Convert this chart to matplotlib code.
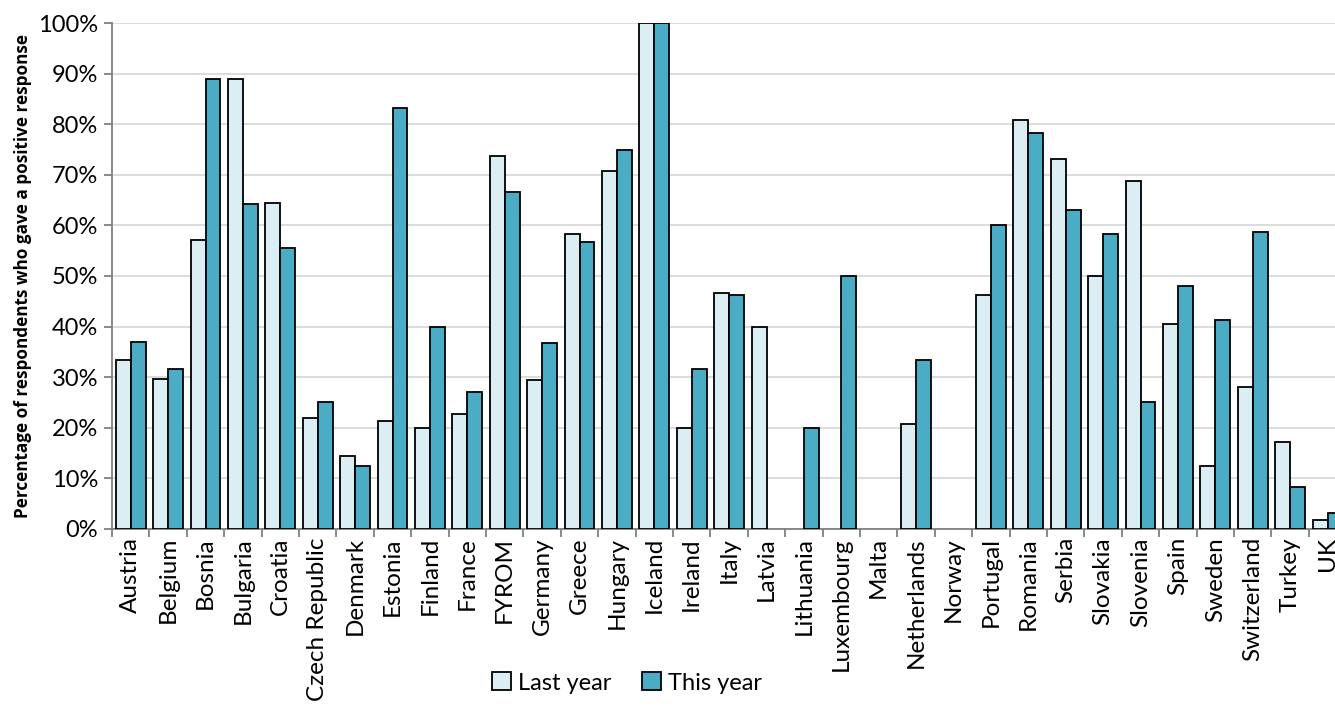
import numpy as np
import matplotlib.pyplot as plt
from matplotlib.ticker import PercentFormatter, FixedLocator

plt.rcParams['font.family'] = ['Lato', 'DejaVu Sans']

# data
countries = ['Austria', 'Belgium', 'Bosnia', 'Bulgaria', 'Croatia', 'Czech Republic',
             'Denmark', 'Estonia', 'Finland', 'France', 'FYROM', 'Germany', 'Greece',
             'Hungary', 'Iceland', 'Ireland', 'Italy', 'Latvia', 'Lithuania', 'Luxembourg',
             'Malta', 'Netherlands', 'Norway', 'Portugal', 'Romania', 'Serbia', 'Slovakia',
             'Slovenia', 'Spain', 'Sweden', 'Switzerland', 'Turkey', 'UK']
last_year = [33.3, 29.7, 57.1, 88.9, 64.5, 22.0, 14.3, 21.4, 20.0, 22.6, 73.7, 29.4, 58.3,
             70.8, 100.0, 20.0, 46.7, 40.0, 0, 0, 0, 20.7, 0, 46.2, 80.8, 73.1, 50.0,
             68.8, 40.5, 12.5, 28.0, 17.1, 1.7]
this_year = [37.0, 31.5, 88.9, 64.2, 55.5, 25.0, 12.5, 83.3, 40.0, 27.1, 66.7, 36.7, 56.7,
             75.0, 100.0, 31.6, 46.2, 0, 20.0, 50.0, 0, 33.3, 0, 60.0, 78.3, 63.0, 58.3,
             25.0, 48.1, 41.2, 58.8, 8.3, 3.1]

light = '#DAEEF3'
dark = '#4BACC6'

fig = plt.figure(figsize=(13.35, 7.06), dpi=100)
# plot area runs past the right edge, like the original (UK is clipped)
ax = fig.add_axes([112 / 1335, (706 - 528.7) / 706, 33 * 37.4 / 1335, 505.4 / 706])

x = np.arange(len(countries))
w = 0.4
# zero values are not drawn (no outline on the axis)
ly = np.where(np.array(last_year) > 0, last_year, np.nan)
ty = np.where(np.array(this_year) > 0, this_year, np.nan)
ax.bar(x - w / 2, ly, w, color=light, edgecolor='black', linewidth=1.3,
       label='Last year', zorder=3)
ax.bar(x + w / 2, ty, w, color=dark, edgecolor='black', linewidth=1.3,
       label='This year', zorder=3)

ax.set_xlim(-0.5, len(countries) - 0.5)
ax.set_ylim(0, 100)
ax.set_yticks(np.arange(0, 101, 10))
ax.yaxis.set_major_formatter(PercentFormatter(decimals=0))
ax.grid(axis='y', color='#D9D9D9', linewidth=1.3, zorder=0)

ax.set_xticks(x)
ax.set_xticklabels(countries, rotation=90, fontsize=17.5)
ax.xaxis.set_minor_locator(FixedLocator(np.arange(-0.5, len(countries), 1)))
ax.tick_params(axis='x', which='major', length=0, pad=6)
ax.tick_params(axis='x', which='minor', length=6, width=1.3, color='#808080')
ax.tick_params(axis='y', labelsize=17, length=6, width=1.3, color='#808080', pad=4)

for s in ['top', 'right']:
    ax.spines[s].set_visible(False)
for s in ['left', 'bottom']:
    ax.spines[s].set_color('#808080')
    ax.spines[s].set_linewidth(1.3)

ax.set_ylabel('Percentage of respondents who gave a positive response',
              fontsize=12.3, fontweight='bold', family=['Open Sans', 'DejaVu Sans'],
              labelpad=4)

fig.legend(loc='center', bbox_to_anchor=(627 / 1335, 1 - 683 / 706), ncol=2,
           frameon=False, fontsize=17, handlelength=0.8, handleheight=0.8,
           handletextpad=0.3, columnspacing=1.3)

fig.savefig('out.png', dpi=100)
